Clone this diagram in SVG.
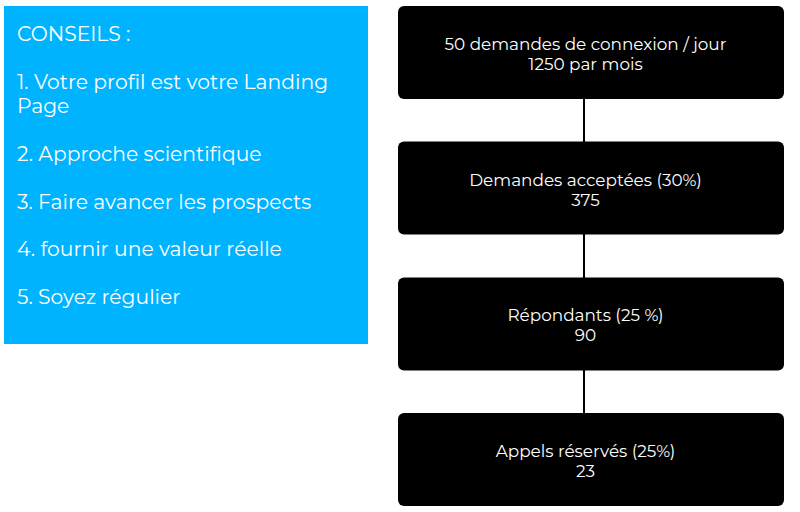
<svg xmlns="http://www.w3.org/2000/svg" width="800" height="512" viewBox="0 0 800 512">
<style>
text{font-family:"Montserrat","Inter","Noto Sans",sans-serif}
.n{fill:#000}
.t{fill:#fff;font-size:16.85px;text-anchor:middle}
.c{fill:#fff;font-size:20.3px}
.l{stroke:#000;stroke-width:2;fill:none}
</style>
<rect width="800" height="512" fill="#fff"/>
<g id="tips">
<rect x="4" y="6" width="364" height="338" fill="#00b3ff"/>
<text class="c" x="17" y="41">CONSEILS :</text>
<text class="c" x="17" y="89">1. Votre profil est votre Landing</text>
<text class="c" x="17" y="113">Page</text>
<text class="c" x="17" y="161">2. Approche scientifique</text>
<text class="c" x="17" y="208.500">3. Faire avancer les prospects</text>
<text class="c" x="17" y="256">4. fournir une valeur réelle</text>
<text class="c" x="17" y="304">5. Soyez régulier</text>
</g>
<g id="connectors">
<path class="l" d="M584 98V142M584 234V278M584 370V413"/>
</g>
<g id="n1"><rect class="n" x="398" y="6" width="386" height="93" rx="6"/><text class="t" x="585.500" y="50">50 demandes de connexion / jour</text><text class="t" x="585.500" y="70">1250 par mois</text></g>
<g id="n2"><rect class="n" x="398" y="141.500" width="386" height="93" rx="6"/><text class="t" x="585.500" y="186">Demandes acceptées (30%)</text><text class="t" x="585.500" y="206">375</text></g>
<g id="n3"><rect class="n" x="398" y="277.500" width="386" height="93" rx="6"/><text class="t" x="585.500" y="321">Répondants (25 %)</text><text class="t" x="585.500" y="341">90</text></g>
<g id="n4"><rect class="n" x="398" y="413" width="386" height="93" rx="6"/><text class="t" x="585.500" y="457">Appels réservés (25%)</text><text class="t" x="585.500" y="477">23</text></g>
</svg>
